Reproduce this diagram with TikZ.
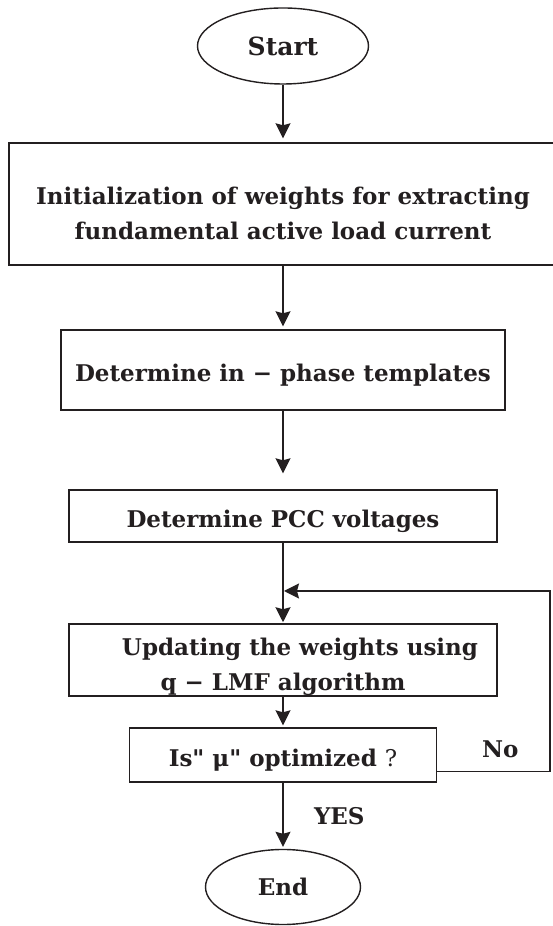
\documentclass[tikz,border=0pt]{standalone}
\usepackage{fontspec}
\setmainfont{DejaVu Serif}[Ligatures=TeXOff]
\usetikzlibrary{arrows.meta,positioning,shapes.geometric}
\definecolor{ink}{HTML}{231F20}
\newcommand\flowfont{\fontsize{23}{35}\selectfont\bfseries}
\tikzset{
  base/.style={draw=ink,line width=1.4pt,inner sep=0pt,align=center,font=\flowfont,text=ink},
  box/.style={base,rectangle,execute at begin node={\rule{0pt}{28pt}}},
  term/.style={base,ellipse},
  lbl/.style={font=\flowfont,text=ink},
  ar/.style={-{Stealth[length=15pt,width=15pt,inset=2pt]},draw=ink,line width=1.4pt},
}

\begin{document}
\begin{tikzpicture}[x=1pt,y=1pt]
  \useasboundingbox (0,0) rectangle (552,926);
  % ── blocks ──
  \node[term,minimum width=171pt,minimum height=76pt,font=\fontsize{25}{30}\selectfont\bfseries] (start) at (283,880) {Start};
  \node[box,minimum width=548pt,minimum height=122pt] (init) at (283,722) {\rule{0pt}{36pt}Initialization of weights for extracting\\fundamental active load current};
  \node[box,minimum width=444pt,minimum height=80pt] (tmpl) at (283,556) {Determine in − phase templates};
  \node[box,minimum width=428pt,minimum height=52pt] (pcc) at (283,410) {Determine PCC voltages};
  \node[box,minimum width=428pt,minimum height=68pt] (upd) at (283,266) {\rule{0pt}{32pt}\hspace*{34pt}Updating the weights using\\q − LMF algorithm};
  \node[box,minimum width=307pt,minimum height=54pt] (opt) at (283,171) {Is" μ" optimized {\mdseries ?}};
  \node[term,minimum width=155pt,minimum height=75pt] (end) at (283,39) {End};
  \coordinate (join) at (283,335);
  \coordinate (back) at (550,335);
  % ── flow ──
  \draw[ar,shorten >=4pt] (start) -- (init);
  \draw[ar,shorten >=3pt] (init) -- (tmpl);
  \draw[ar,shorten >=16pt] (tmpl) -- (pcc);
  \draw[ar,shorten >=1pt] (pcc) -- (upd);
  \draw[ar,shorten >=2pt] (upd) -- (opt);
  \draw[ar,shorten >=2pt] (opt) -- node[lbl,right=27pt]{YES} (end);
  % ── loop back ──
  \draw[ar,shorten >=1pt] ([yshift=11pt]opt.south east) -| node[lbl,pos=0.28,above=10pt]{No} (back) -- (join);
\end{tikzpicture}
\end{document}
